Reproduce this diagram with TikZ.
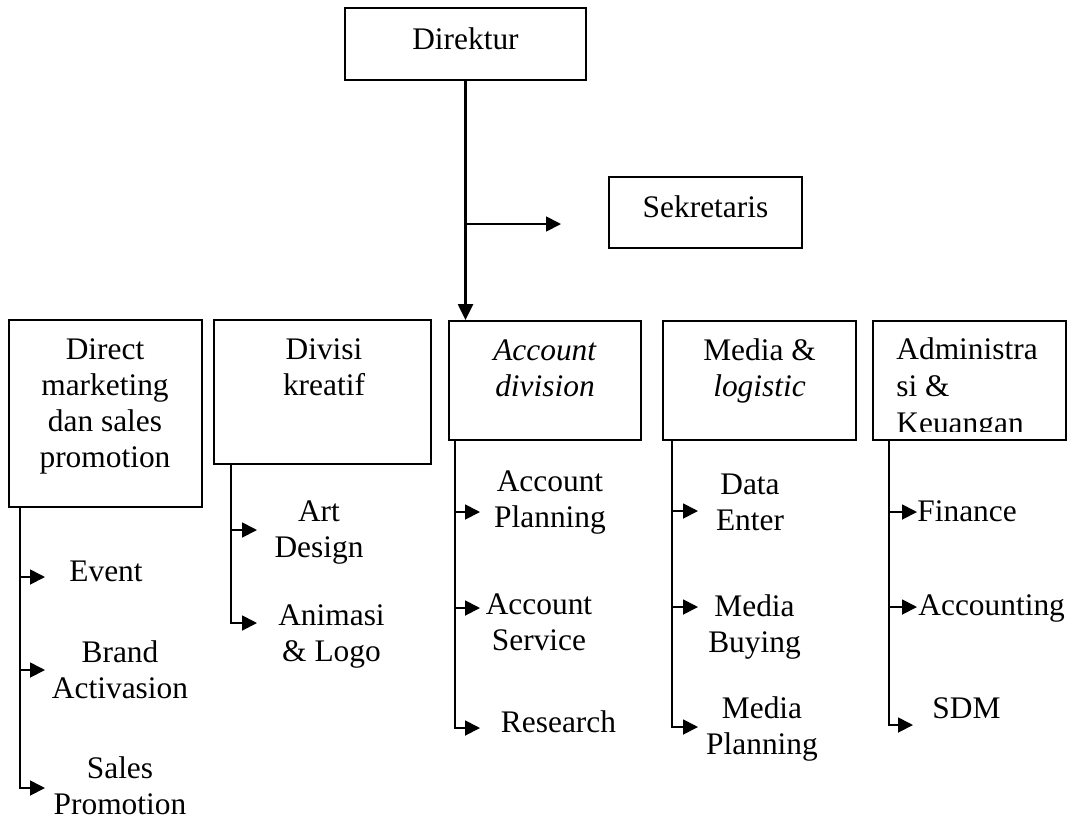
\documentclass[tikz,border=0pt]{standalone}
\usepackage{fontspec}
\setmainfont{Liberation Serif}
\usetikzlibrary{arrows.meta}
\newcommand{\mlc}[1]{\begin{tabular}[t]{@{}c@{}}#1\end{tabular}}
\newcommand{\mll}[1]{\begin{tabular}[t]{@{}l@{}}#1\end{tabular}}
\begin{document}
\begin{tikzpicture}[x=0.5pt,y=-0.5pt,
  box/.style={draw, line width=1pt, inner sep=0pt, rectangle},
  txt/.style={inner sep=0pt, anchor=base, font=\fontsize{15.7}{18}\selectfont},
  ltxt/.style={txt, anchor=base west},
  conn/.style={line width=0.9pt},
  mainconn/.style={line width=1.3pt},
  arr/.style={conn, -{Triangle[length=7.5pt,width=7.5pt]}},
  mainarr/.style={mainconn, -{Triangle[length=8pt,width=7.5pt]}}
]
\useasboundingbox (0,0) rectangle (1075,836);

% boxes
\node[box, minimum width=120.5pt, minimum height=36pt]   (dir) at (465.5,44) {};
\node[box, minimum width=96.5pt,  minimum height=35.5pt] (sek) at (705.5,212.5) {};
\node[box, minimum width=96.5pt,  minimum height=93.5pt] (dm)  at (105.5,413.5) {};
\node[box, minimum width=108.5pt, minimum height=72pt]   (dk)  at (322.5,392) {};
\node[box, minimum width=96pt,    minimum height=59.5pt] (acc) at (545,380.5) {};
\node[box, minimum width=96.5pt,  minimum height=59.5pt] (med) at (759.5,380.5) {};
\node[box, minimum width=96.5pt,  minimum height=59.5pt] (adm) at (969.5,380.5) {};

% box texts
\node[txt] (dirT) at (465.5,49) {Direktur};
\node[txt] (sekT) at (705.5,217) {Sekretaris};
\node[txt] (dmT)  at (105,359) {\mlc{Direct\\marketing\\dan sales\\promotion}};
\node[txt] (dkT)  at (324,359) {\mlc{Divisi\\kreatif}};
\node[txt] (accT) at (545,360) {\mlc{\textit{Account}\\\textit{division}}};
\node[txt] (medT) at (759.5,360) {\mlc{Media \&\\\textit{logistic}}};
\begin{scope}
  \clip ([yshift=5pt]adm.south west) rectangle (adm.north east);
  \node[ltxt] (admT) at (896,359) {\fontsize{15.7}{18.5}\selectfont\mll{Administra\\si \&\\Keuangan}};
\end{scope}

% top connectors
\coordinate (sekA) at (561,224);
\draw[mainarr] (dir.south) -- (dir.south |- acc.north);
\draw[arr] (dir.south |- sekA) -- (sekA);

% Direct marketing branch
\coordinate (dmL) at (20,507);
\coordinate (evA) at (45,577);
\coordinate (brA) at (45,670);
\coordinate (spA) at (45,788);
\draw[arr] (dmL) |- (spA);
\draw[arr] (dmL |- evA) -- (evA);
\draw[arr] (dmL |- brA) -- (brA);
\node[txt] (ev) at (106,581) {Event};
\node[txt] (br) at (120,662) {\mlc{Brand\\Activasion}};
\node[txt] (sp) at (120,778) {\mlc{Sales\\Promotion}};

% Divisi kreatif branch
\coordinate (dkL) at (231,464);
\coordinate (adA) at (257,530);
\coordinate (alA) at (257,623);
\draw[arr] (dkL) |- (alA);
\draw[arr] (dkL |- adA) -- (adA);
\node[txt] (ad) at (319,521) {\mlc{Art\\Design}};
\node[txt] (al) at (331.5,625) {\mlc{Animasi\\\& Logo}};

% Account division branch
\coordinate (accL) at (455,440);
\coordinate (apA) at (480,512);
\coordinate (asA) at (480,608);
\coordinate (reA) at (480,728);
\draw[arr] (accL) |- (reA);
\draw[arr] (accL |- apA) -- (apA);
\draw[arr] (accL |- asA) -- (asA);
\node[txt] (ap) at (550,491) {\mlc{Account\\Planning}};
\node[txt] (as) at (539,614) {\mlc{Account\\Service}};
\node[txt] (re) at (558.5,732) {Research};

% Media & logistic branch
\coordinate (medL) at (672,440);
\coordinate (deA) at (698,511);
\coordinate (mbA) at (698,607);
\coordinate (mpA) at (698,727);
\draw[arr] (medL) |- (mpA);
\draw[arr] (medL |- deA) -- (deA);
\draw[arr] (medL |- mbA) -- (mbA);
\node[txt] (de) at (750,494) {\mlc{Data\\Enter}};
\node[txt] (mb) at (754.5,616) {\mlc{Media\\Buying}};
\node[txt] (mp) at (762,718) {\mlc{Media\\Planning}};

% Administrasi branch
\coordinate (admL) at (889,440);
\coordinate (fiA) at (917,512);
\coordinate (acA) at (917,607);
\coordinate (sdA) at (913,725);
\draw[arr] (admL) |- (sdA);
\draw[arr] (admL |- fiA) -- (fiA);
\draw[arr] (admL |- acA) -- (acA);
\node[ltxt] (fi) at (917,521) {Finance};
\node[ltxt] (ac) at (918,615) {Accounting};
\node[ltxt] (sd) at (932,718) {SDM};
\end{tikzpicture}
\end{document}
